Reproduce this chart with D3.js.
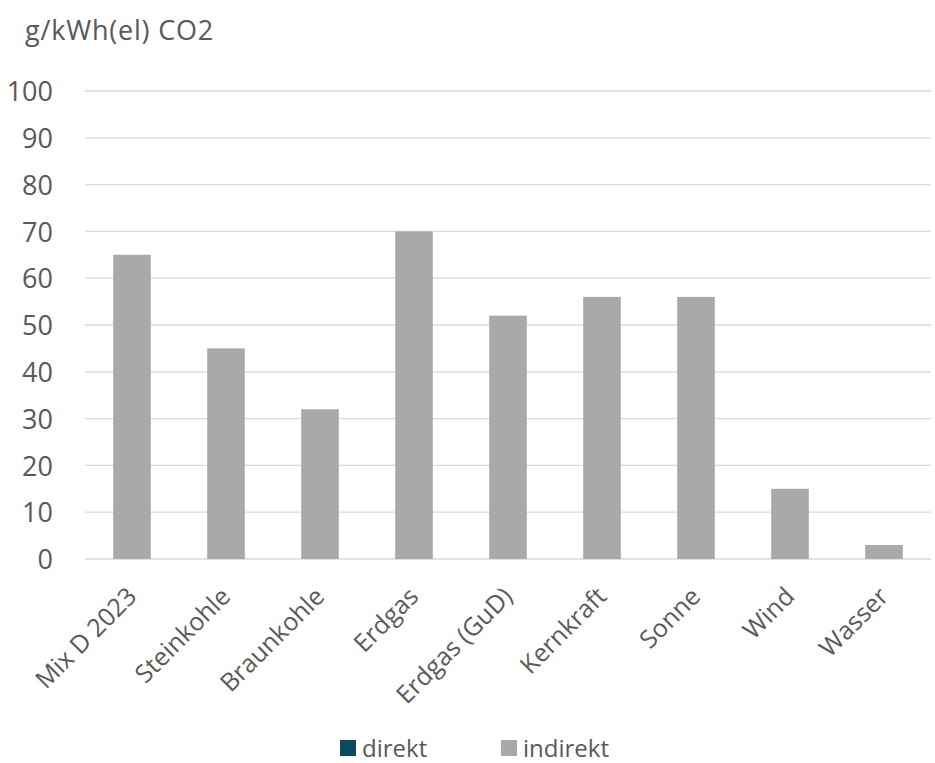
<!DOCTYPE html>
<html>
<head>
<meta charset="utf-8">
<script src="https://cdn.jsdelivr.net/npm/d3@7"></script>
<style>
  html, body { margin: 0; padding: 0; background: #ffffff; }
  svg text { font-family: "Open Sans", "Noto Sans", "Liberation Sans", sans-serif; fill: #595959; }
</style>
</head>
<body>
<svg id="chart" width="935" height="763"></svg>
<script>
// Life-cycle CO2 emissions per kWh of electricity
const categories = ["Mix D 2023", "Steinkohle", "Braunkohle", "Erdgas", "Erdgas (GuD)", "Kernkraft", "Sonne", "Wind", "Wasser"];
const direkt = [0, 0, 0, 0, 0, 0, 0, 0, 0];
const indirekt = [65, 45, 32, 70, 52, 56, 56, 15, 3];
const yTicks = [0, 10, 20, 30, 40, 50, 60, 70, 80, 90, 100];
const seriesNames = ["direkt", "indirekt"];
const seriesColors = ["#0e4a5b", "#a9a9a9"];

const svg = d3.select("#chart");
const plotLeft = 85, plotRight = 931, plotTop = 91, plotBottom = 559;

const x = d3.scaleBand().domain(categories).range([plotLeft, plotRight]).paddingInner(0.6).paddingOuter(0.3);
const y = d3.scaleLinear().domain([0, 100]).range([plotBottom, plotTop]);

// Gridlines
svg.append("g").selectAll("line").data(yTicks).join("line")
  .attr("x1", plotLeft).attr("x2", plotRight)
  .attr("y1", d => y(d)).attr("y2", d => y(d))
  .attr("stroke", "#d9d9d9").attr("stroke-width", 1.3);

// Y axis labels
const yAxis = svg.append("g").attr("transform", `translate(${plotLeft - 32},0)`)
  .call(d3.axisLeft(y).tickValues(yTicks).tickSize(0).tickPadding(0));
yAxis.select(".domain").remove();
yAxis.selectAll("text").style("font-size", "27px").style("font-family", null).attr("fill", "#595959").attr("dy", "0.36em");

// Unit title
svg.append("text").attr("x", 25).attr("y", 40).style("font-size", "27px").style("letter-spacing", "0.8px").text("g/kWh(el) CO2");

// Stacked bars
const rows = categories.map((c, i) => ({ cat: c, direkt: direkt[i], indirekt: indirekt[i] }));
const stack = d3.stack().keys(seriesNames)(rows);
svg.append("g").selectAll("g").data(stack).join("g")
  .attr("fill", (d, i) => seriesColors[i])
  .selectAll("rect").data(d => d).join("rect")
  .attr("x", d => x(d.data.cat))
  .attr("width", x.bandwidth())
  .attr("y", d => y(d[1]))
  .attr("height", d => y(d[0]) - y(d[1]));

// Category labels, rotated
const xAxis = svg.append("g").attr("transform", `translate(0,${plotBottom})`)
  .call(d3.axisBottom(x).tickSize(0).tickPadding(0));
xAxis.select(".domain").remove();
xAxis.selectAll("text")
  .style("font-size", "25px")
  .style("font-family", null)
  .attr("fill", "#595959")
  .attr("text-anchor", "end")
  .attr("dy", "0")
  .attr("transform", "translate(6,39) rotate(-45)");

// Legend
const legendX = [340, 501];
const legend = svg.append("g").selectAll("g").data(seriesNames).join("g")
  .attr("transform", (d, i) => `translate(${legendX[i]},740)`);
legend.append("rect").attr("width", 16).attr("height", 16).attr("fill", (d, i) => seriesColors[i]);
legend.append("text").attr("x", 22).attr("y", 17).style("font-size", "24px").text(d => d);
</script>
</body>
</html>
